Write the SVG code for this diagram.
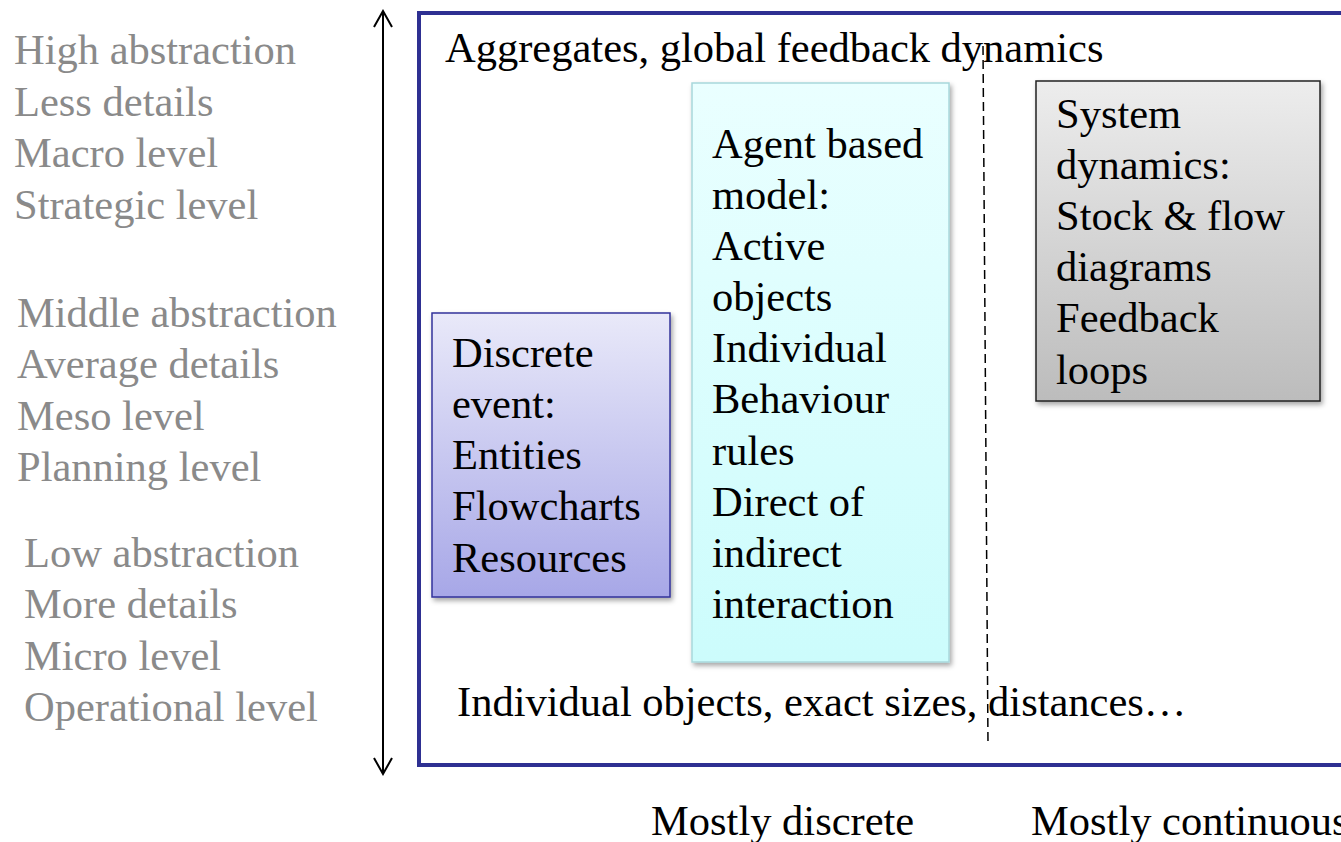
<svg xmlns="http://www.w3.org/2000/svg" width="1341" height="842" viewBox="0 0 1341 842">
<style>
text{font-family:"Liberation Serif","Times New Roman",serif;font-size:42.5px;fill:#000}
.side{fill:#8a8a8a}
</style>
<defs>
<linearGradient id="gDE" x1="0" y1="0" x2="0" y2="1"><stop offset="0" stop-color="#e9e9f9"/><stop offset="1" stop-color="#a7a7e7"/></linearGradient>
<linearGradient id="gAB" x1="0" y1="0" x2="0" y2="1"><stop offset="0" stop-color="#eaffff"/><stop offset="1" stop-color="#ccfcfc"/></linearGradient>
<linearGradient id="gSD" x1="0" y1="0" x2="0" y2="1"><stop offset="0" stop-color="#ededed"/><stop offset="1" stop-color="#bcbcbc"/></linearGradient>
<filter id="sh" x="-10%" y="-10%" width="125%" height="125%"><feDropShadow dx="2" dy="3" stdDeviation="2.5" flood-color="#000" flood-opacity="0.35"/></filter>
<marker id="ah" viewBox="0 0 20 20" refX="18" refY="10" markerWidth="20" markerHeight="20" markerUnits="userSpaceOnUse" orient="auto-start-reverse"><path d="M2 1 L18 10 L2 19" fill="none" stroke="#000" stroke-width="2"/></marker>
</defs>
<g id="side-labels">
<text class="side" x="14" y="64">High abstraction</text>
<text class="side" x="14" y="116">Less details</text>
<text class="side" x="14" y="167">Macro level</text>
<text class="side" x="14" y="219">Strategic level</text>
<text class="side" x="17" y="327">Middle abstraction</text>
<text class="side" x="17" y="378">Average details</text>
<text class="side" x="17" y="430">Meso level</text>
<text class="side" x="17" y="481">Planning level</text>
<text class="side" x="24" y="567">Low abstraction</text>
<text class="side" x="24" y="618">More details</text>
<text class="side" x="24" y="670">Micro level</text>
<text class="side" x="24" y="721">Operational level</text>
</g>
<g id="connectors">
<line x1="383" y1="774" x2="383" y2="11" stroke="#000" stroke-width="2" marker-start="url(#ah)" marker-end="url(#ah)"/>
<line x1="983" y1="46" x2="988" y2="745" stroke="#000" stroke-width="1.5" stroke-dasharray="9,5"/>
</g>
<g id="frame">
<path d="M1345 13 L419 13 L419 765 L1345 765" fill="none" stroke="#2e3092" stroke-width="4"/>
<text x="445" y="62">Aggregates, global feedback dynamics</text>
<text x="457" y="716">Individual objects, exact sizes, distances…</text>
</g>
<g id="discrete-event">
<rect x="432" y="313" width="238" height="284" fill="url(#gDE)" stroke="#33339a" stroke-width="1.5" filter="url(#sh)"/>
<text x="452" y="367">Discrete</text>
<text x="452" y="418">event:</text>
<text x="452" y="469">Entities</text>
<text x="452" y="520">Flowcharts</text>
<text x="452" y="572">Resources</text>
</g>
<g id="agent-based">
<rect x="692" y="83" width="257" height="579" fill="url(#gAB)" stroke="#a8d8dc" stroke-width="1.5" filter="url(#sh)"/>
<text x="712" y="158">Agent based</text>
<text x="712" y="209">model:</text>
<text x="712" y="260">Active</text>
<text x="712" y="311">objects</text>
<text x="712" y="362">Individual</text>
<text x="712" y="413">Behaviour</text>
<text x="712" y="465">rules</text>
<text x="712" y="516">Direct of</text>
<text x="712" y="567">indirect</text>
<text x="712" y="618">interaction</text>
</g>
<g id="system-dynamics">
<rect x="1036" y="81" width="284" height="320" fill="url(#gSD)" stroke="#222" stroke-width="1.5" filter="url(#sh)"/>
<text x="1056" y="128">System</text>
<text x="1056" y="179">dynamics:</text>
<text x="1056" y="230">Stock &amp; flow</text>
<text x="1056" y="281">diagrams</text>
<text x="1056" y="332">Feedback</text>
<text x="1056" y="384">loops</text>
</g>
<g id="axis-labels">
<text x="651" y="835">Mostly discrete</text>
<text x="1031" y="835">Mostly continuous</text>
</g>
</svg>
